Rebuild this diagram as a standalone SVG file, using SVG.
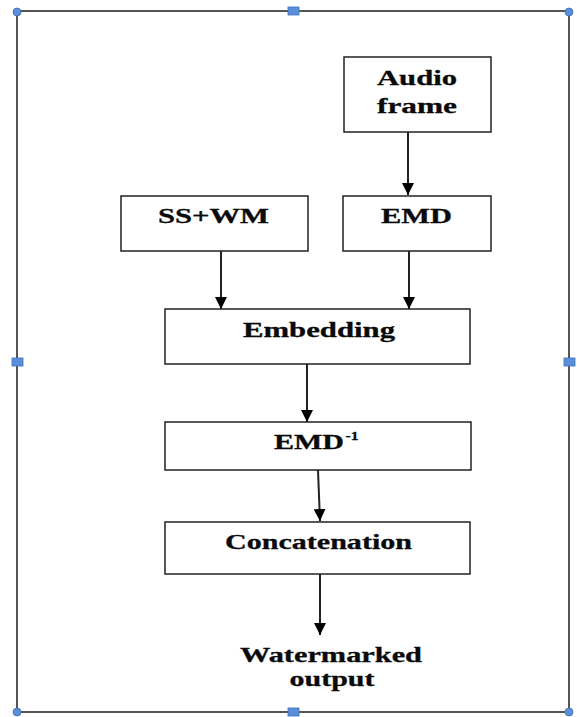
<svg xmlns="http://www.w3.org/2000/svg" width="577" height="717" viewBox="0 0 577 717">
<defs>
<style>
.box{fill:#fff;stroke:#222;stroke-width:1.5}
.t{font-family:"Liberation Serif","Times New Roman",serif;font-weight:bold;font-size:21px;fill:#0a0a0a;text-anchor:middle;stroke:#0a0a0a;stroke-width:0.3}
.c{stroke:#222;stroke-width:2;fill:none}
.h{fill:#5b8fd9;stroke:#3f6fb8;stroke-width:0.8}
</style>
<marker id="ah" viewBox="0 0 10 10" refX="10" refY="5" markerWidth="6" markerHeight="6" markerUnits="strokeWidth" orient="auto">
<path d="M0,0 L10,5 L0,10 Z" fill="#000"/>
</marker>
</defs>
<rect width="577" height="717" fill="#fff"/>
<g id="frame">
<rect x="17" y="11" width="552" height="701" fill="none" stroke="#555" stroke-width="2"/>
<circle class="h" cx="17" cy="12" r="4"/>
<circle class="h" cx="569" cy="12" r="4"/>
<circle class="h" cx="17" cy="712" r="4"/>
<circle class="h" cx="569" cy="712" r="4"/>
<rect class="h" x="288" y="7" width="11" height="8"/>
<rect class="h" x="288" y="708" width="11" height="8"/>
<rect class="h" x="12" y="358" width="11" height="8"/>
<rect class="h" x="564" y="358" width="11" height="8"/>
</g>
<g id="connectors">
<line class="c" x1="408" y1="132" x2="408" y2="195" marker-end="url(#ah)"/>
<line class="c" x1="221" y1="251" x2="221" y2="309" marker-end="url(#ah)"/>
<line class="c" x1="409" y1="251" x2="409" y2="309" marker-end="url(#ah)"/>
<line class="c" x1="307" y1="364" x2="307" y2="422" marker-end="url(#ah)"/>
<line class="c" x1="318" y1="470" x2="320" y2="521" marker-end="url(#ah)"/>
<line class="c" x1="320" y1="574" x2="320" y2="635" marker-end="url(#ah)"/>
</g>
<g id="audio">
<rect class="box" x="344" y="57" width="147" height="75"/>
<text class="t" x="417" y="85" textLength="80" lengthAdjust="spacingAndGlyphs">Audio</text>
<text class="t" x="417" y="113" textLength="80" lengthAdjust="spacingAndGlyphs">frame</text>
</g>
<g id="sswm">
<rect class="box" x="121" y="196" width="187" height="55"/>
<text class="t" x="213.5" y="223" textLength="111" lengthAdjust="spacingAndGlyphs">SS+WM</text>
</g>
<g id="emd">
<rect class="box" x="343" y="196" width="148" height="55"/>
<text class="t" x="416.5" y="223" textLength="71" lengthAdjust="spacingAndGlyphs">EMD</text>
</g>
<g id="embedding">
<rect class="box" x="165" y="309" width="305" height="55"/>
<text class="t" x="319" y="337" textLength="152" lengthAdjust="spacingAndGlyphs">Embedding</text>
</g>
<g id="emdinv">
<rect class="box" x="165" y="422" width="306" height="48"/>
<text class="t" x="309" y="449" textLength="70" lengthAdjust="spacingAndGlyphs">EMD</text>
<text class="t" x="352" y="440" textLength="13" lengthAdjust="spacingAndGlyphs" style="font-size:12px">-1</text>
</g>
<g id="concat">
<rect class="box" x="165" y="522" width="305" height="52"/>
<text class="t" x="318.5" y="549" textLength="187" lengthAdjust="spacingAndGlyphs">Concatenation</text>
</g>
<g id="output">
<text class="t" x="331" y="662" textLength="182" lengthAdjust="spacingAndGlyphs">Watermarked</text>
<text class="t" x="332" y="686" textLength="85" lengthAdjust="spacingAndGlyphs">output</text>
</g>
</svg>
